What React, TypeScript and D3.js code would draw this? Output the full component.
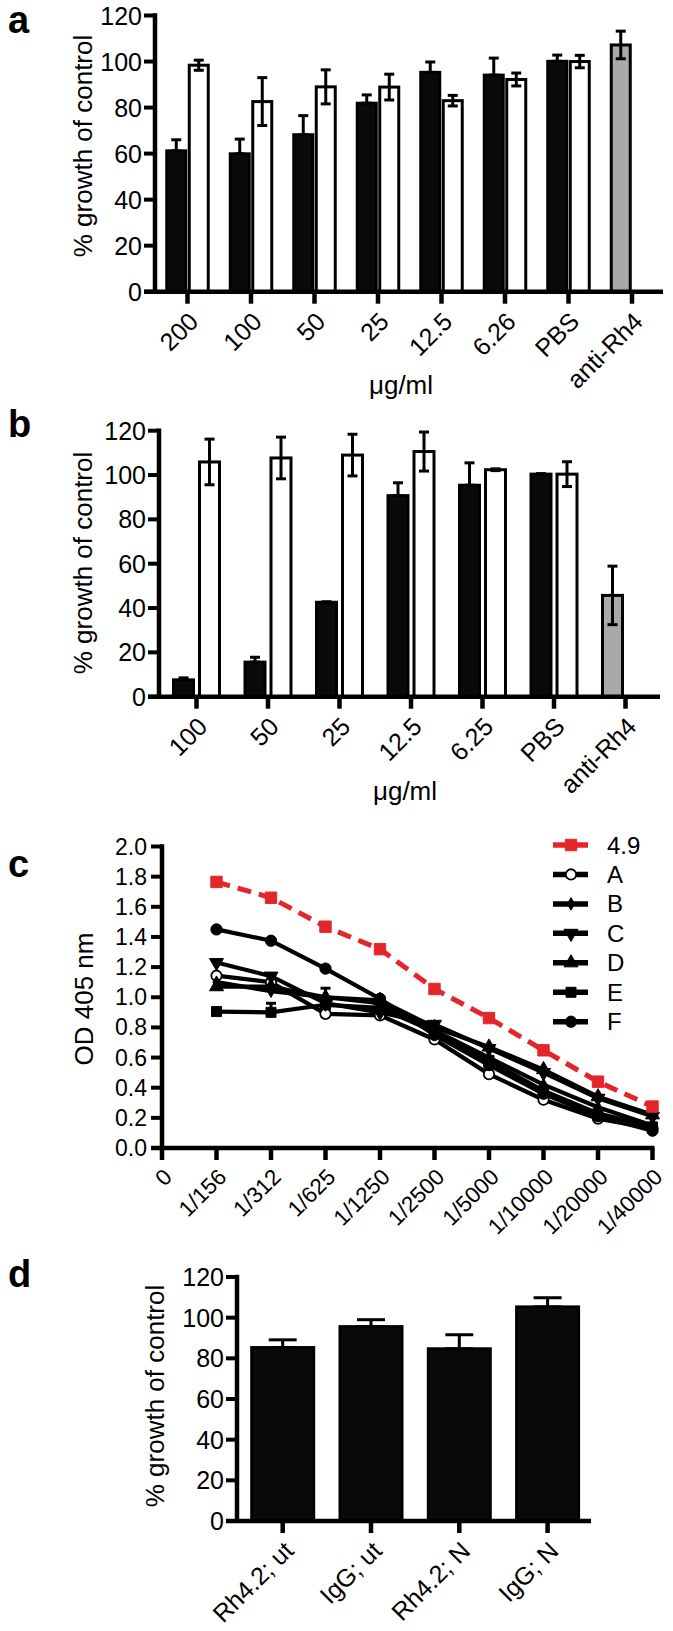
import React from "react";
import * as d3 from "d3";

const FONT = "'Liberation Sans', Arial, Helvetica, sans-serif";

// ---------- Panel a ----------
const aCategories = ["200", "100", "50", "25", "12.5", "6.26", "PBS", "anti-Rh4"];
const aBlack = [61.2, 59.9, 68.2, 81.9, 95.3, 94.1, 100.1];
const aBlackErr = [4.8, 6.4, 8.3, 3.6, 4.5, 7.4, 2.7];
const aWhite = [98.4, 82.6, 89.0, 88.9, 83.0, 92.2, 100.0];
const aWhiteErr = [2.2, 10.4, 7.4, 5.6, 2.3, 2.8, 2.7];
const aControl = [107.2];
const aControlErr = [6.0];

// ---------- Panel b ----------
const bCategories = ["100", "50", "25", "12.5", "6.25", "PBS", "anti-Rh4"];
const bBlack = [7.6, 15.6, 42.6, 90.7, 95.4, 100.4];
const bBlackErr = [0.9, 2.2, 0.2, 5.8, 10.1, 0.2];
const bWhite = [105.9, 107.7, 109.0, 110.6, 102.4, 100.4];
const bWhiteErr = [10.3, 9.4, 9.4, 8.8, 0.4, 5.6];
const bControl = [45.7];
const bControlErr = [13.2];

const pctTicks = [0, 20, 40, 60, 80, 100, 120];

// ---------- Panel c ----------
const cLabels = ["0", "1/156", "1/312", "1/625", "1/1250", "1/2500", "1/5000", "1/10000", "1/20000", "1/40000"];
const cTicks = [0, 0.2, 0.4, 0.6, 0.8, 1.0, 1.2, 1.4, 1.6, 1.8, 2.0];
const cSeriesNames = ["4.9", "A", "B", "C", "D", "E", "F"];
const c49 = [1.765, 1.66, 1.468, 1.319, 1.055, 0.862, 0.648, 0.44, 0.275];
const cA = [1.143, 1.1, 0.89, 0.88, 0.72, 0.49, 0.32, 0.195, 0.13];
const cB = [1.1, 1.04, 1.0, 0.96, 0.78, 0.6, 0.42, 0.27, 0.15];
const cC = [1.23, 1.14, 0.96, 0.9, 0.82, 0.66, 0.5, 0.33, 0.21];
const cD = [1.07, 1.07, 1.0, 0.98, 0.8, 0.67, 0.52, 0.34, 0.22];
const cE = [0.905, 0.9, 0.95, 0.93, 0.77, 0.58, 0.38, 0.23, 0.14];
const cEErr = [0, 0.06, 0.11, 0, 0, 0, 0, 0, 0];
const cF = [1.45, 1.375, 1.19, 0.99, 0.75, 0.55, 0.36, 0.21, 0.115];

// ---------- Panel d ----------
const dCategories = ["Rh4.2; ut", "IgG; ut", "Rh4.2; N", "IgG; N"];
const dValues = [85.3, 95.6, 84.7, 105.3];
const dErr = [3.8, 3.4, 6.9, 4.5];

type BarPanelProps = {
  letter: string;
  letterY: number;
  axisX: number;
  axisEnd: number;
  y0: number;
  y120: number;
  firstTick: number;
  tickStep: number;
  barW: number;
  gap: number;
  categories: string[];
  black: number[];
  blackErr: number[];
  white: number[];
  whiteErr: number[];
  control: number[];
  controlErr: number[];
  yLabelX: number;
  yLabelY: number;
  xLabelX: number;
  xLabelY: number;
};

const AXIS_W = 4.5;
const TICK_LEN = 11;

function ErrBar({ x, yTop, yBot, cap, sw = 3 }: { x: number; yTop: number; yBot: number; cap: number; sw?: number }) {
  return (
    <g stroke="#000" strokeWidth={sw}>
      <line x1={x} x2={x} y1={yTop} y2={yBot} />
      <line x1={x - cap / 2} x2={x + cap / 2} y1={yTop} y2={yTop} />
      <line x1={x - cap / 2} x2={x + cap / 2} y1={yBot} y2={yBot} />
    </g>
  );
}

function YAxisPct({ axisX, y, ticks, fmt, fontSize }: { axisX: number; y: d3.ScaleLinear<number, number>; ticks: number[]; fmt: (v: number) => string; fontSize: number }) {
  return (
    <g>
      <line x1={axisX} x2={axisX} y1={y(ticks[ticks.length - 1]) - AXIS_W / 2} y2={y(0)} stroke="#000" strokeWidth={AXIS_W} />
      {ticks.map((t) => (
        <g key={t}>
          <line x1={axisX - TICK_LEN} x2={axisX} y1={y(t)} y2={y(t)} stroke="#000" strokeWidth={AXIS_W - 0.5} />
          <text x={axisX - TICK_LEN - 2} y={y(t)} textAnchor="end" dominantBaseline="central" fontSize={fontSize} fontFamily={FONT}>
            {fmt(t)}
          </text>
        </g>
      ))}
    </g>
  );
}

function BarPanel(p: BarPanelProps) {
  const y = d3.scaleLinear().domain([0, 120]).range([p.y0, p.y120]);
  const x = d3
    .scalePoint<string>()
    .domain(p.categories)
    .range([p.firstTick, p.firstTick + p.tickStep * (p.categories.length - 1)]);
  const cap = 10;
  const n = p.black.length;
  return (
    <g>
      <text x={8} y={p.letterY} fontSize={38} fontWeight="bold" fontFamily={FONT}>
        {p.letter}
      </text>
      {p.categories.slice(0, n).map((c, i) => {
        const cx = x(c)!;
        const bx = cx - p.gap / 2 - p.barW;
        const wx = cx + p.gap / 2;
        return (
          <g key={c}>
            <ErrBar x={bx + p.barW / 2} yTop={y(p.black[i] + p.blackErr[i])} yBot={y(p.black[i])} cap={cap} />
            <rect x={bx} y={y(p.black[i])} width={p.barW} height={y(0) - y(p.black[i])} fill="#0a0a0a" stroke="#000" strokeWidth={3} />
            <rect x={wx} y={y(p.white[i])} width={p.barW} height={y(0) - y(p.white[i])} fill="#fff" stroke="#000" strokeWidth={3} />
            <ErrBar x={wx + p.barW / 2} yTop={y(p.white[i] + p.whiteErr[i])} yBot={y(p.white[i] - p.whiteErr[i])} cap={cap} />
          </g>
        );
      })}
      {p.control.map((v, j) => {
        const c = p.categories[n + j];
        const cx = x(c)!;
        const bx = cx - p.gap / 2 - p.barW;
        return (
          <g key={c}>
            <rect x={bx} y={y(v)} width={p.barW} height={y(0) - y(v)} fill="#a9a9a9" stroke="#000" strokeWidth={3} />
            <ErrBar x={bx + p.barW / 2} yTop={y(v + p.controlErr[j])} yBot={y(v - p.controlErr[j])} cap={cap} />
          </g>
        );
      })}
      {/* axes */}
      <line x1={p.axisX - TICK_LEN} x2={p.axisEnd} y1={y(0)} y2={y(0)} stroke="#000" strokeWidth={AXIS_W} />
      <YAxisPct axisX={p.axisX} y={y} ticks={pctTicks} fmt={(v) => String(v)} fontSize={25} />
      {p.categories.map((c) => (
        <g key={"t" + c}>
          <line x1={x(c)!} x2={x(c)!} y1={y(0)} y2={y(0) + TICK_LEN + 1} stroke="#000" strokeWidth={AXIS_W} />
          <text
            transform={`translate(${x(c)! + 6},${y(0) + 25}) rotate(-45)`}
            textAnchor="end"
            dominantBaseline="central"
            fontSize={25}
            fontFamily={FONT}
          >
            {c}
          </text>
        </g>
      ))}
      <text transform={`translate(${p.yLabelX},${p.yLabelY}) rotate(-90)`} textAnchor="middle" dominantBaseline="central" fontSize={26} fontFamily={FONT}>
        % growth of control
      </text>
      <text x={p.xLabelX} y={p.xLabelY} textAnchor="middle" dominantBaseline="central" fontSize={26} fontFamily={FONT}>
        μg/ml
      </text>
    </g>
  );
}

function PanelC() {
  const axisX = 162;
  const y = d3.scaleLinear().domain([0, 2]).range([1148, 846.5]);
  const x = d3.scalePoint<string>().domain(cLabels).range([axisX, axisX + 54.5 * 9]);
  const pts = cLabels.slice(1);
  const line = d3
    .line<number>()
    .x((_, i) => x(pts[i])!)
    .y((v) => y(v));
  const series = [c49, cA, cB, cC, cD, cE, cF];
  const symbols = [d3.symbolSquare, d3.symbolCircle, d3.symbolDiamond, d3.symbolTriangle, d3.symbolTriangle, d3.symbolSquare, d3.symbolCircle];
  const sizes = [130, 85, 45, 85, 85, 100, 100];
  const rotations = [0, 0, 0, 180, 0, 0, 0];
  const fills = ["#e3262b", "#fff", "#000", "#000", "#000", "#000", "#000"];
  const strokes = ["#e3262b", "#000", "#000", "#000", "#000", "#000", "#000"];
  const drawOrder = [1, 2, 3, 4, 5, 6, 0];
  const legendY = (i: number) => 845 + i * 29.45;
  return (
    <g>
      <text x={8} y={877} fontSize={38} fontWeight="bold" fontFamily={FONT}>
        c
      </text>
      {drawOrder.map((si) => (
        <g key={si}>
          <path
            d={line(series[si])!}
            fill="none"
            stroke={strokes[si]}
            strokeWidth={si === 0 ? 5 : 4.2}
            strokeDasharray={si === 0 ? "14 8" : undefined}
          />
          {si === 5 &&
            series[si].map((v, i) =>
              cEErr[i] > 0 ? <ErrBar key={i} x={x(pts[i])!} yTop={y(v + cEErr[i])} yBot={y(v)} cap={10} /> : null
            )}
          {series[si].map((v, i) => (
            <path
              key={i}
              d={d3.symbol().type(symbols[si]).size(sizes[si])()!}
              transform={`translate(${x(pts[i])},${y(v)}) rotate(${rotations[si]})`}
              fill={fills[si]}
              stroke={strokes[si]}
              strokeWidth={si === 1 ? 1.8 : 1}
            />
          ))}
        </g>
      ))}
      {/* axes */}
      <line x1={axisX} x2={axisX} y1={y(2) - AXIS_W / 2} y2={y(0)} stroke="#000" strokeWidth={AXIS_W} />
      <line x1={axisX - TICK_LEN} x2={x(cLabels[9])! + 2} y1={y(0)} y2={y(0)} stroke="#000" strokeWidth={AXIS_W} />
      {cTicks.map((t) => (
        <g key={t}>
          <line x1={axisX - TICK_LEN} x2={axisX} y1={y(t)} y2={y(t)} stroke="#000" strokeWidth={AXIS_W - 0.5} />
          <text x={axisX - TICK_LEN - 4} y={y(t)} textAnchor="end" dominantBaseline="central" fontSize={23} fontFamily={FONT}>
            {t.toFixed(1)}
          </text>
        </g>
      ))}
      {cLabels.map((c) => (
        <g key={"x" + c}>
          <line x1={x(c)!} x2={x(c)!} y1={y(0)} y2={y(0) + TICK_LEN + 1} stroke="#000" strokeWidth={AXIS_W} />
          <text
            transform={`translate(${x(c)! + 6},${y(0) + 25}) rotate(-45)`}
            textAnchor="end"
            dominantBaseline="central"
            fontSize={22.5}
            fontFamily={FONT}
          >
            {c}
          </text>
        </g>
      ))}
      <text transform={`translate(84,999) rotate(-90)`} textAnchor="middle" dominantBaseline="central" fontSize={26} fontFamily={FONT}>
        OD 405 nm
      </text>
      {/* legend */}
      {cSeriesNames.map((name, i) => (
        <g key={name}>
          <line x1={553} x2={588} y1={legendY(i)} y2={legendY(i)} stroke={strokes[i]} strokeWidth={5.5} />
          <path
            d={d3.symbol().type(symbols[i]).size(sizes[i])()!}
            transform={`translate(571,${legendY(i)}) rotate(${rotations[i]})`}
            fill={fills[i]}
            stroke={strokes[i]}
            strokeWidth={i === 1 ? 1.8 : 1}
          />
          <text x={607} y={legendY(i)} dominantBaseline="central" fontSize={24} fontFamily={FONT}>
            {name}
          </text>
        </g>
      ))}
    </g>
  );
}

function PanelD() {
  const axisX = 237;
  const y = d3.scaleLinear().domain([0, 120]).range([1521, 1277]);
  const x = d3.scalePoint<string>().domain(dCategories).range([282.7, 282.7 + 88.3 * 3]);
  const barW = 62;
  return (
    <g>
      <text x={8} y={1287} fontSize={38} fontWeight="bold" fontFamily={FONT}>
        d
      </text>
      {dCategories.map((c, i) => (
        <g key={c}>
          <ErrBar x={x(c)!} yTop={y(dValues[i] + dErr[i])} yBot={y(dValues[i])} cap={28} />
          <rect x={x(c)! - barW / 2} y={y(dValues[i])} width={barW} height={y(0) - y(dValues[i])} fill="#0a0a0a" stroke="#000" strokeWidth={3} />
        </g>
      ))}
      <line x1={axisX - TICK_LEN} x2={591} y1={y(0)} y2={y(0)} stroke="#000" strokeWidth={AXIS_W} />
      <YAxisPct axisX={axisX} y={y} ticks={pctTicks} fmt={(v) => String(v)} fontSize={25} />
      {dCategories.map((c) => (
        <g key={"t" + c}>
          <line x1={x(c)!} x2={x(c)!} y1={y(0)} y2={y(0) + TICK_LEN + 1} stroke="#000" strokeWidth={AXIS_W} />
          <text
            transform={`translate(${x(c)! + 6},${y(0) + 25}) rotate(-45)`}
            textAnchor="end"
            dominantBaseline="central"
            fontSize={25}
            fontFamily={FONT}
          >
            {c}
          </text>
        </g>
      ))}
      <text transform={`translate(155,1396) rotate(-90)`} textAnchor="middle" dominantBaseline="central" fontSize={26} fontFamily={FONT}>
        % growth of control
      </text>
    </g>
  );
}

export default function App() {
  return (
    <svg width={673} height={1631} style={{ position: "absolute", left: 0, top: 0, background: "#fff" }}>
      <rect width={673} height={1631} fill="#fff" />
      <BarPanel
        letter="a"
        letterY={33}
        axisX={155}
        axisEnd={663}
        y0={291.7}
        y120={15.5}
        firstTick={187.5}
        tickStep={63.5}
        barW={19}
        gap={3.5}
        categories={aCategories}
        black={aBlack}
        blackErr={aBlackErr}
        white={aWhite}
        whiteErr={aWhiteErr}
        control={aControl}
        controlErr={aControlErr}
        yLabelX={83}
        yLabelY={146}
        xLabelX={401}
        xLabelY={385}
      />
      <BarPanel
        letter="b"
        letterY={437}
        axisX={159}
        axisEnd={660}
        y0={696.7}
        y120={430.7}
        firstTick={196.5}
        tickStep={71.5}
        barW={20}
        gap={6}
        categories={bCategories}
        black={bBlack}
        blackErr={bBlackErr}
        white={bWhite}
        whiteErr={bWhiteErr}
        control={bControl}
        controlErr={bControlErr}
        yLabelX={83}
        yLabelY={563}
        xLabelX={405}
        xLabelY={791}
      />
      <PanelC />
      <PanelD />
    </svg>
  );
}
